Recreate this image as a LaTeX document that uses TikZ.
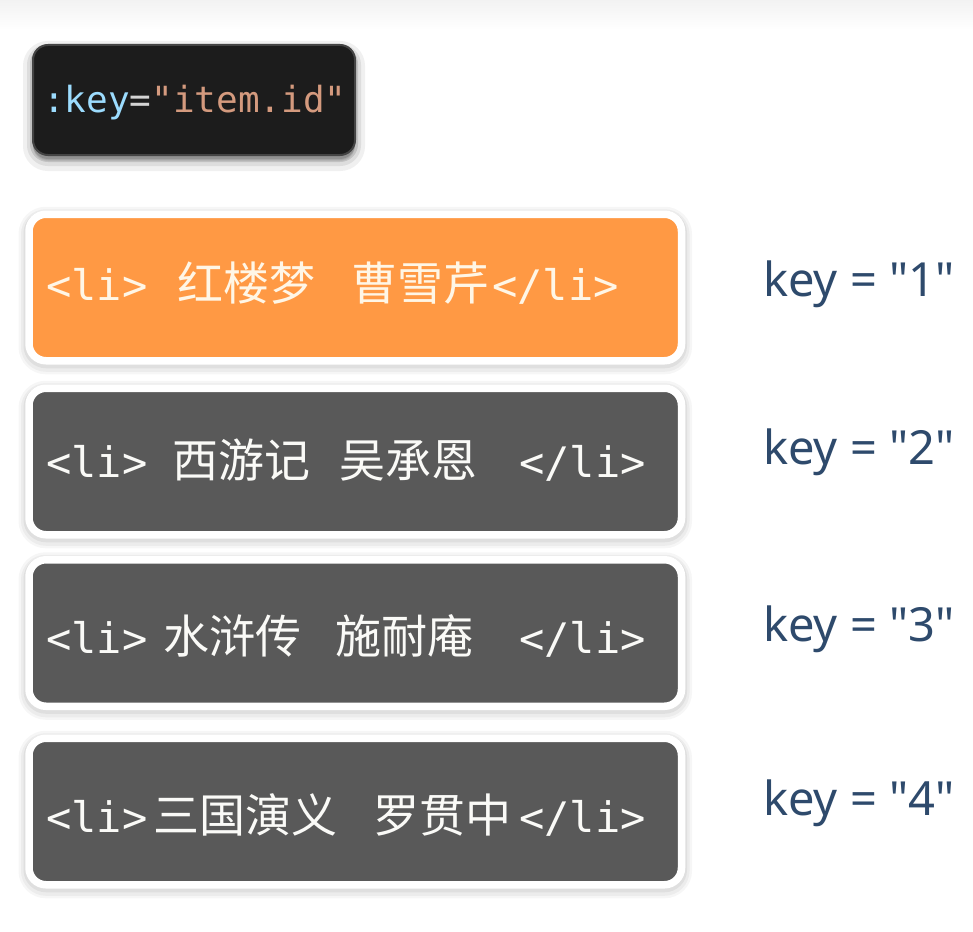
\documentclass[tikz,border=0pt]{standalone}
\usepackage{fontspec}
\setmonofont{DejaVu Sans Mono}
\newfontfamily\cjkfont{Noto Sans CJK SC}
\newfontfamily\keyfont{Noto Sans}
\definecolor{orangebox}{HTML}{FF9944}
\definecolor{graybox}{HTML}{595959}
\definecolor{codebg}{HTML}{1C1C1C}
\definecolor{codeedge}{HTML}{444444}
\definecolor{attrblue}{HTML}{9CDCFE}
\definecolor{strorange}{HTML}{D49A7E}
\definecolor{eqgray}{HTML}{D4D4D4}
\definecolor{keyblue}{HTML}{2E4A6C}
\definecolor{licream}{HTML}{FFF6E6}
\definecolor{liwhite}{HTML}{FAFAF7}
\newcommand{\seg}[2]{\makebox[#1pt][l]{#2}}
\newcommand{\cj}[1]{{\cjkfont\fontsize{46}{50}\selectfont #1}}
\begin{document}
\begin{tikzpicture}[x=1pt,y=-1pt,
  softshadow/.style={
    preaction={draw=black,fill=black,opacity=0.035,line width=21pt,transform canvas={yshift=-3pt}},
    preaction={draw=black,fill=black,opacity=0.04,line width=16pt,transform canvas={yshift=-3pt}},
    preaction={draw=black,fill=black,opacity=0.05,line width=11pt,transform canvas={yshift=-2pt}}},
  libox/.style={softshadow,rectangle,rounded corners=17pt,draw=white,line width=7.5pt,
    minimum width=652.5pt,minimum height=146.5pt,inner sep=0pt},
  codebox/.style={
    preaction={draw=black,fill=black,opacity=0.06,line width=20pt,transform canvas={yshift=-6pt}},
    preaction={draw=black,fill=black,opacity=0.08,line width=12pt,transform canvas={yshift=-5pt}},
    preaction={draw=black,fill=black,opacity=0.12,line width=6pt,transform canvas={yshift=-4pt}},
    rectangle,rounded corners=15pt,fill=codebg,draw=codeedge,line width=2pt,
    minimum width=322pt,minimum height=110pt,inner sep=0pt},
  litxt/.style={anchor=base west,inner sep=0pt,font=\ttfamily\fontsize{42}{50}\selectfont},
  keytxt/.style={anchor=base west,inner sep=0pt,text=keyblue,font=\keyfont\fontsize{47}{55}\selectfont},
  codetxt/.style={anchor=base west,inner sep=0pt,font=\ttfamily\fontsize{36}{42}\selectfont}]
\useasboundingbox (0,0) rectangle (973,931);
\fill[white] (0,0) rectangle (973,931);
\shade[top color=black!5,bottom color=white] (0,0) rectangle (973,30);
% code box
\node[codebox] (code) at (194,100) {};
\node[codetxt] (codet) at (43,113) {\textcolor{attrblue}{:key}\textcolor{eqgray}{=}\textcolor{strorange}{"item.id"}};
% list boxes
\node[libox,fill=orangebox] (b1) at (355.25,287.5) {};
\node[libox,fill=graybox] (b2) at (355.25,461.5) {};
\node[libox,fill=graybox] (b3) at (355.25,633) {};
\node[libox,fill=graybox] (b4) at (355.25,811.5) {};
% list texts
\node[litxt,text=licream] (t1) at (46,300) {\seg{131}{<li>}\seg{174}{\cj{红楼梦}}\seg{141}{\cj{曹雪芹}}</li>};
\node[litxt,text=liwhite] (t2) at (46,477) {\seg{126}{<li>}\seg{167}{\cj{西游记}}\seg{180}{\cj{吴承恩}}</li>};
\node[litxt,text=liwhite] (t3) at (46,653) {\seg{117}{<li>}\seg{172}{\cj{水浒传}}\seg{184}{\cj{施耐庵}}</li>};
\node[litxt,text=liwhite] (t4) at (46,832) {\seg{107}{<li>}\seg{220}{\cj{三国演义}}\seg{146}{\cj{罗贯中}}</li>};
% keys
\node[keytxt] (k1) at (763,296) {key = "1"};
\node[keytxt] (k2) at (763,464) {key = "2"};
\node[keytxt] (k3) at (763,641) {key = "3"};
\node[keytxt] (k4) at (763,815) {key = "4"};
\end{tikzpicture}
\end{document}
